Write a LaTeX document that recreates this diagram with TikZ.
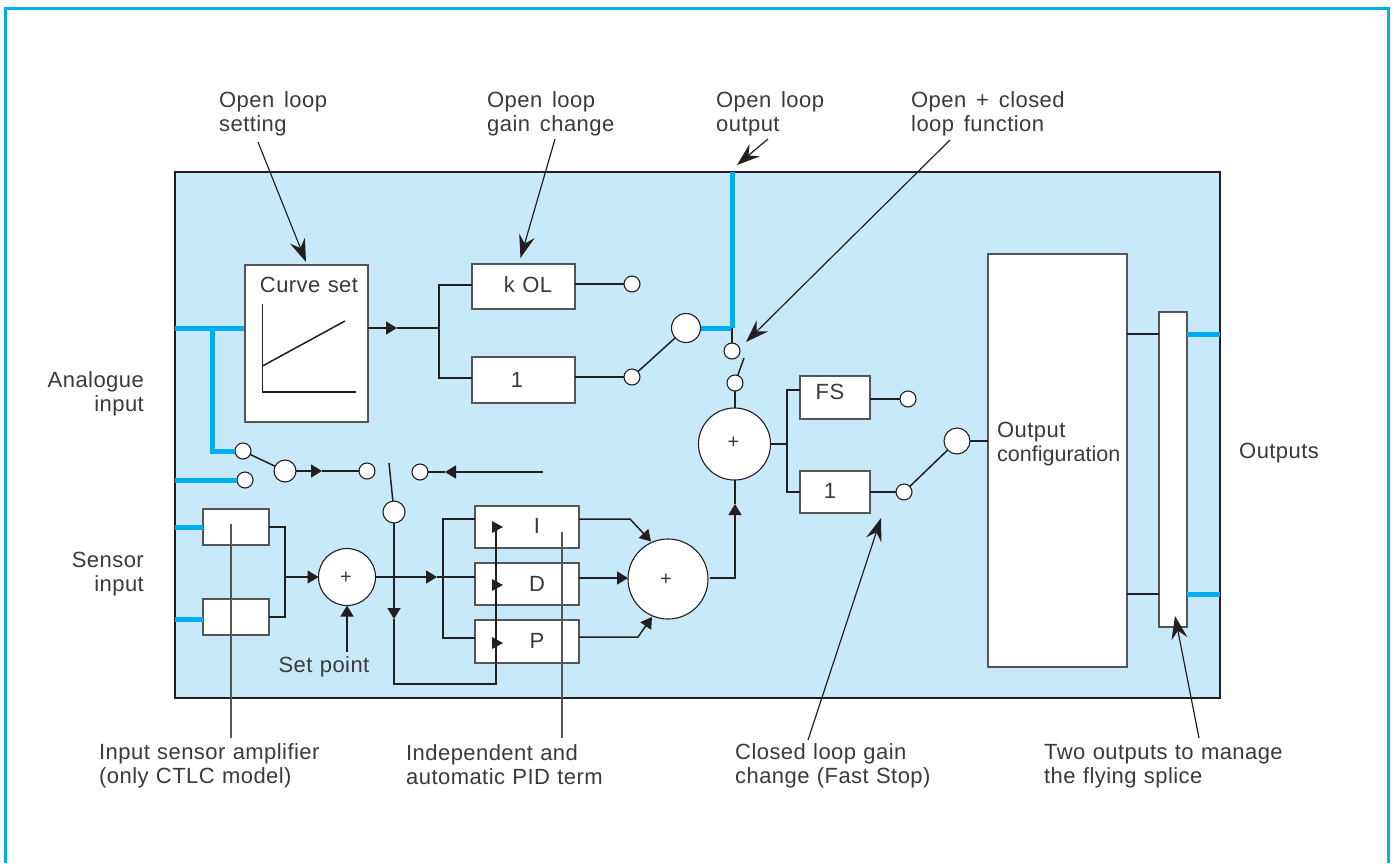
\documentclass[tikz,border=0pt]{standalone}
\usepackage{fontspec}
\setmainfont{Liberation Sans}[LetterSpace=2,WordSpace=1.12]
\newfontfamily\widelabel{Liberation Sans}[LetterSpace=2,WordSpace=1.5]
\newfontfamily\tightlabel{Liberation Sans}[LetterSpace=0]
\usetikzlibrary{arrows.meta,calc}
\definecolor{panelblue}{HTML}{C7E9FA}
\definecolor{busblue}{HTML}{00AEEF}
\definecolor{ink}{HTML}{231F20}
\definecolor{edge}{HTML}{555555}
\definecolor{txt}{HTML}{3A3A3A}
\tikzset{
  x=1pt,y=-1pt,
  boxn/.style={draw=edge,line width=1.4pt,fill=white,inner sep=0pt,outer sep=0pt},
  dotn/.style={circle,draw=ink,line width=1.1pt,fill=white,minimum size=16pt,inner sep=0pt,outer sep=0pt},
  sumn/.style={circle,draw=ink,line width=1.1pt,fill=white,inner sep=0pt,outer sep=0pt},
  plusn/.style={inner sep=0pt,text=txt,font=\fontsize{20}{20}\selectfont},
  boxt/.style={inner sep=0pt,text=txt,font=\fontsize{22}{24}\selectfont},
  lab/.style={inner sep=0pt,align=left,anchor=west,text=txt,font=\fontsize{22}{24}\selectfont},
  toplab/.style={lab,font=\fontsize{22}{24}\selectfont\widelabel},
  conn/.style={draw=ink,line width=1.5pt},
  tipn/.style={-{Triangle[length=11pt,width=13pt]}},
  tri/.style={conn,tipn},
  bus/.style={draw=busblue,line width=5pt},
  note/.style={draw=ink,line width=1.2pt,-{Stealth[length=23pt,width=16pt,inset=8pt]}},
  leader/.style={draw=edge,line width=1.4pt},
}
\begin{document}
\begin{tikzpicture}
\useasboundingbox (0,0) rectangle (1394,863);
\fill[white] (0,0) rectangle (1394,863);
\draw[draw=busblue,line width=3pt] (5.5,863) -- (5.5,8.5) -- (1388,8.5) -- (1388,863);
\node[draw=ink,line width=1.4pt,fill=panelblue,minimum width=1045pt,minimum height=526pt,inner sep=0pt] (panel) at (697.5,435) {};

% free points
\coordinate (busL1) at (175,328);
\coordinate (busJ) at (212,328);
\coordinate (busL2) at (175,480);
\coordinate (busL3) at (175,527);
\coordinate (busL4) at (175,619);
\coordinate (busTop) at (732,172);
\coordinate (busCorner) at (732,328);

% blue lines first
\node[dotn] (swA) at (243,451) {};
\node[dotn] (swB) at (245,480) {};
\node[boxn,minimum width=66pt,minimum height=36pt] (amp1) at (236,527) {};
\node[boxn,minimum width=66pt,minimum height=36pt] (amp2) at (236,617) {};
\draw[bus] (busL1) -- (245,328);
\draw[bus] (busJ) |- (swA);
\draw[bus] (busL2) -- (swB);
\draw[bus] (busL3) -- (amp1.west);
\draw[bus] (busL4) -- (amp1.west |- busL4);

% boxes
\node[boxn,minimum width=123pt,minimum height=157pt] (curve) at (306.5,343.5) {};
\node[boxt] (curvet) at (309,285) {Curve set};
\coordinate (axT) at (262.5,304);
\coordinate (axO) at (262.5,392);
\coordinate (axR) at (356,392);
\coordinate (crvA) at (262.5,366);
\coordinate (crvB) at (345,321);
\draw[conn] (axT) -- (axO) -- (axR);
\draw[conn] (crvA) -- (crvB);
\node[boxn,minimum width=103pt,minimum height=45pt] (kol) at (523.5,286.5) {};
\node[boxt] (kolt) at (528,285) {k OL};
\node[boxn,minimum width=103pt,minimum height=46pt] (one) at (523.5,380) {};
\node[boxt] (onet) at (517,380) {1};
\node[dotn] (kolO) at (632,284) {};
\node[dotn] (oneO) at (632,377) {};
\node[dotn,minimum size=29pt] (olS) at (686,328) {};
\node[dotn] (clA) at (732,351) {};
\node[dotn] (clB) at (735,383) {};
\coordinate (clArm) at (744,358);
\node[sumn,minimum size=72pt] (sumB) at (734.5,444) {};
\node[plusn] (plusB) at (733.5,443) {+};
\node[boxn,minimum width=70pt,minimum height=43pt] (fs) at (835,397.5) {};
\node[boxt] (fst) at (830,392) {FS};
\node[boxn,minimum width=70pt,minimum height=42pt] (oneb) at (835,492) {};
\node[boxt] (onebt) at (830,491) {1};
\node[dotn] (fsO) at (908,399) {};
\node[dotn] (onebO) at (904,492) {};
\node[dotn,minimum size=26pt] (cfgS) at (957,441) {};
\node[boxn,minimum width=139pt,minimum height=413pt] (cfg) at (1057.5,460.5) {};
\node[lab] (cfgt) at (997,444) {Output\\{\tightlabel\fontsize{21.5}{24}\selectfont configuration}};
\node[boxn,minimum width=28pt,minimum height=315pt] (spl) at (1173,469.5) {};

\node[dotn,minimum size=22pt] (selS) at (285,471) {};
\node[dotn] (selA) at (367,471) {};
\node[dotn] (selB) at (420,472) {};
\node[dotn,minimum size=22pt] (selC) at (394,512) {};
\coordinate (selArm) at (389,463);
\coordinate (remote) at (543,472);

\node[sumn,minimum size=57pt] (sumA) at (347,577) {};
\node[plusn] (plusA) at (346,578) {+};
\node[boxn,minimum width=104pt,minimum height=42pt] (ti) at (527,527) {};
\node[boxn,minimum width=104pt,minimum height=42pt] (td) at (527,584) {};
\node[boxn,minimum width=104pt,minimum height=43pt] (tp) at (527,641.5) {};
\node[boxt] (tit) at (537,526) {I};
\node[boxt] (tdt) at (537,584) {D};
\node[boxt] (tpt) at (537,641) {P};
\node[sumn,minimum size=80pt] (sumC) at (668,579) {};
\node[plusn] (plusC) at (666,580) {+};

% curve to gain branch
\coordinate (t1) at (397,328);
\coordinate (j1) at (439,328);
\draw[tri] (curve.east |- t1) -- (t1);
\draw[conn] (t1) -- (j1);
\draw[conn] (kol.west |- 0,285) -| (j1) |- (one.west |- 0,378);
\draw[conn] (kol.east |- kolO) -- (kolO);
\draw[conn] (one.east |- oneO) -- (oneO);
\draw[conn] (oneO) -- (olS);
\draw[bus] (olS) -- (busCorner);
\draw[draw=busblue,line width=5pt,line cap=square] (busCorner) -- (busTop);
\draw[conn] (busCorner) -- (clA);
\draw[conn] (clB) -- (clArm);
\draw[conn] (clB) -- (clB |- sumB.north);

% selector
\draw[conn] (swA) -- (selS);
\coordinate (t2) at (322,471);
\draw[tri] (selS) -- (t2);
\draw[conn] (t2) -- (selA);
\coordinate (t3) at (445,472);
\draw[tri] (remote) -- (t3);
\draw[conn] (t3) -- (selB);
\draw[conn] (selArm) -- (selC);

% amp to sum A
\coordinate (jA) at (285,577);
\draw[conn] (amp1.east) -| (jA) |- (amp2.east);
\draw[tri] (jA) -- (sumA);
\coordinate (spTop) at (347,652);
\draw[tri] (spTop) -- (sumA);
\node[boxt] (sp) at (324,667) {Set point};

% sum A to PID
\coordinate (t4) at (437,577);
\coordinate (jB) at (443,577);
\draw[tri] (sumA) -- (t4);
\draw[conn] (t4) -- (td.west |- jB);
\draw[conn] (ti.west |- 0,519) -| (jB) |- (tp.west |- 0,638);

% selector to PID
\coordinate (t5) at (394,619);
\coordinate (c1) at (394,684);
\coordinate (c2) at (496,684);
\coordinate (c3) at (496,528);
\draw[tri] (selC) -- (t5);
\draw[conn] (t5) -- (c1) -- (c2) -- (c3);
\foreach \n/\y in {tri1/527,tri2/585,tri3/643}{
  \fill[ink] (492,\y-6) -- (503,\y) -- (492,\y+6) -- cycle;
}

% PID to sum C
\coordinate (b1) at (630,519);
\coordinate (t6) at (651,541.5);
\draw[conn,tipn] (ti.east |- b1) -- (b1) -- (t6);
\draw[tri] (td.east |- 0,578) -- (sumC.west |- 0,578);
\coordinate (b2) at (638,637);
\coordinate (t7) at (652,617);
\draw[conn,tipn] (tp.east |- b2) -- (b2) -- (t7);
\coordinate (c4) at (735,578);
\coordinate (t8) at (735,504);
\draw[tri] (710,578) -- (c4) -- (t8);
\draw[conn] (t8) -- (t8 |- sumB.south);

% sum B to FS / 1
\coordinate (jC) at (787,444);
\draw[conn] (sumB.east) -- (jC);
\draw[conn] (fs.west |- 0,390) -| (jC) |- (oneb.west);
\draw[conn] (fs.east |- fsO) -- (fsO);
\draw[conn] (oneb.east) -- (onebO);
\draw[conn] (onebO) -- (cfgS);
\draw[conn] (cfgS) -- (cfg.west |- cfgS);

% output
\coordinate (o1) at (1220,334);
\coordinate (o2) at (1220,594);
\draw[conn] (cfg.east |- o1) -- (spl.west |- o1);
\draw[conn] (cfg.east |- o2) -- (spl.west |- o2);
\draw[bus] (spl.east |- o1) -- (o1);
\draw[bus] (spl.east |- o2) -- (o2);

% texts
\node[toplab] (l1) at (219,113.5) {Open loop\\setting};
\node[toplab] (l2) at (487,113.5) {Open loop\\gain change};
\node[toplab] (l3) at (716,113.5) {Open loop\\output};
\node[toplab] (l4) at (911,113.5) {Open + closed\\loop function};
\node[lab,anchor=east,align=right] (l5) at (144,393.5) {Analogue\\input};
\node[lab,anchor=east,align=right] (l6) at (144,574.5) {Sensor\\input};
\node[lab] (l7) at (1239,453) {Outputs};
\node[lab] (l8) at (99,766) {Input sensor amplifier\\(only CTLC model)};
\node[lab] (l9) at (406,765) {Independent and\\automatic PID term};
\node[lab] (l10) at (735,766) {Closed loop gain\\change (Fast Stop)};
\node[lab] (l11) at (1044,766) {Two outputs to manage\\the flying splice};

% leaders
\coordinate (n1s) at (258,142); \coordinate (n1e) at (306,262);
\coordinate (n2s) at (555,139); \coordinate (n2e) at (520.5,258);
\coordinate (n3s) at (768,139); \coordinate (n3e) at (737,165);
\coordinate (n4s) at (950,140); \coordinate (n4e) at (746,342);
\coordinate (n5s) at (808,740); \coordinate (n5e) at (881,518);
\coordinate (n6s) at (1199,738); \coordinate (n6e) at (1175,616);
\coordinate (n7s) at (231,738); \coordinate (n7e) at (231,524);
\coordinate (n8s) at (562,738); \coordinate (n8e) at (562,532);
\draw[note] (n1s) -- (n1e);
\draw[note] (n2s) -- (n2e);
\draw[note] (n3s) -- (n3e);
\draw[note] (n4s) -- (n4e);
\draw[note] (n5s) -- (n5e);
\draw[note] (n6s) -- (n6e);
\draw[leader] (n7s) -- (n7e);
\draw[leader] (n8s) -- (n8e);
\end{tikzpicture}
\end{document}
